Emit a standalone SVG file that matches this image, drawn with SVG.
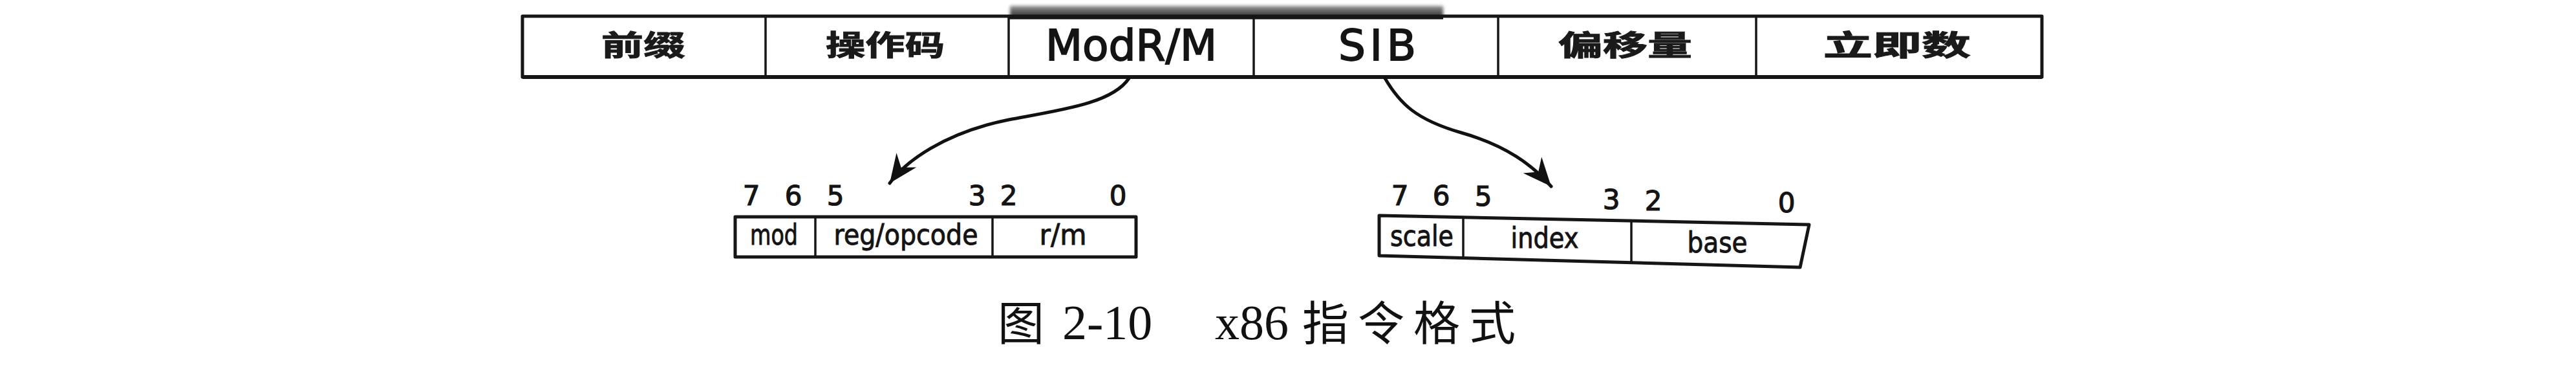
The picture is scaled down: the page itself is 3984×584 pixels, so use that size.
<svg xmlns="http://www.w3.org/2000/svg" width="3984" height="584" viewBox="0 0 3984 584">
<style>
.frame{fill:#fff;stroke:#161616;stroke-width:5;stroke-linejoin:round}
.div{stroke:#161616;stroke-width:3.5;fill:none}
.cn{font-family:"Noto Sans CJK SC","Noto Sans CJK TC",sans-serif;font-weight:700;font-size:44px;fill:#1a1a1a;stroke:#1a1a1a;stroke-width:1}
.en{font-family:"DejaVu Sans",sans-serif;font-size:66px;fill:#141414;stroke:#141414;stroke-width:1.8}
.fld{font-family:"DejaVu Sans",sans-serif;font-size:44px;fill:#141414;stroke:#141414;stroke-width:1;text-anchor:middle}
.bit{font-family:"DejaVu Sans",sans-serif;font-size:42px;fill:#141414;stroke:#141414;stroke-width:1.2;text-anchor:middle}
.cap{font-family:"Liberation Serif","Noto Sans CJK SC",serif;font-size:76px;fill:#111}
.capcn{font-family:"Noto Sans CJK SC","Noto Sans CJK TC",sans-serif;font-size:72px;fill:#111}
.conn{fill:none;stroke:#111;stroke-width:5;stroke-linecap:round}
</style>
<defs>
<marker id="ah" markerUnits="userSpaceOnUse" viewBox="-46 -24 50 48" refX="0" refY="0" markerWidth="50" markerHeight="48" orient="auto">
<path d="M0,0 L-44,-19 L-30,0 L-44,19 Z" fill="#111"/>
</marker>
<filter id="blur" x="-10%" y="-100%" width="120%" height="300%"><feGaussianBlur stdDeviation="2.5"/></filter>
<linearGradient id="sh" x1="0" y1="0" x2="0" y2="1">
<stop offset="0" stop-color="#999"/>
<stop offset="0.5" stop-color="#555"/>
<stop offset="1" stop-color="#333"/>
</linearGradient>
</defs>
<rect width="3984" height="584" fill="#fff"/>

<g id="instruction-format">
<rect x="1562" y="9" width="670" height="20" fill="url(#sh)" filter="url(#blur)"/>
<rect class="frame" x="808" y="25" width="2350" height="94"/>
<line class="div" x1="1560" y1="28" x2="2232" y2="28" stroke-width="5"/>
<line x1="808" y1="119" x2="3158" y2="119" stroke="#161616" stroke-width="6"/>
<g id="prefix"><line class="div" x1="1184" y1="25" x2="1184" y2="119"/><text class="cn" x="930" y="86" textLength="130" lengthAdjust="spacingAndGlyphs">前缀</text></g>
<g id="opcode"><line class="div" x1="1560" y1="25" x2="1560" y2="119"/><text class="cn" x="1277" y="86" textLength="184" lengthAdjust="spacingAndGlyphs">操作码</text></g>
<g id="modrm"><line class="div" x1="1939" y1="28" x2="1939" y2="119"/><text class="en" x="1617" y="93" textLength="265" lengthAdjust="spacingAndGlyphs">ModR/M</text></g>
<g id="sib"><line class="div" x1="2317" y1="25" x2="2317" y2="119"/><text class="en" x="2070" y="93" textLength="120" lengthAdjust="spacing">SIB</text></g>
<g id="displacement"><line class="div" x1="2716" y1="25" x2="2716" y2="119"/><text class="cn" x="2410" y="86" textLength="207" lengthAdjust="spacingAndGlyphs">偏移量</text></g>
<g id="immediate"><text class="cn" x="2820" y="86" textLength="228" lengthAdjust="spacingAndGlyphs">立即数</text></g>
</g>

<g id="connectors">
<path class="conn" d="M1746,121 C1720,160 1640,170 1560,185 C1460,205 1400,250 1376,283" marker-end="url(#ah)"/>
<path class="conn" d="M2142,121 C2165,160 2190,185 2260,205 C2330,225 2370,255 2399,288" marker-end="url(#ah)"/>
</g>

<g id="modrm-byte">
<text class="bit" x="1162" y="317">7</text>
<text class="bit" x="1227" y="317">6</text>
<text class="bit" x="1292" y="317">5</text>
<text class="bit" x="1511" y="317">3</text>
<text class="bit" x="1560" y="317">2</text>
<text class="bit" x="1729" y="317">0</text>
<rect class="frame" x="1137" y="335" width="620" height="62"/>
<line class="div" x1="1261" y1="335" x2="1261" y2="397"/>
<line class="div" x1="1535" y1="335" x2="1535" y2="397"/>
<text class="fld" x="1197" y="378" textLength="74" lengthAdjust="spacingAndGlyphs">mod</text>
<text class="fld" x="1401" y="378" textLength="223" lengthAdjust="spacingAndGlyphs">reg/opcode</text>
<text class="fld" x="1644" y="378" textLength="73" lengthAdjust="spacingAndGlyphs">r/m</text>
</g>

<g id="sib-byte">
<text class="bit" x="2165" y="317">7</text>
<text class="bit" x="2229" y="317">6</text>
<text class="bit" x="2294" y="318">5</text>
<text class="bit" x="2492" y="323">3</text>
<text class="bit" x="2557" y="325">2</text>
<text class="bit" x="2763" y="328">0</text>
<polygon class="frame" points="2133,333 2798,347 2784,413 2133,395"/>
<line class="div" x1="2263" y1="336" x2="2263" y2="399"/>
<line class="div" x1="2523" y1="341" x2="2523" y2="406"/>
<text class="fld" x="2199" y="380" textLength="98" lengthAdjust="spacingAndGlyphs">scale</text>
<text class="fld" x="2389" y="383" textLength="105" lengthAdjust="spacingAndGlyphs">index</text>
<text class="fld" x="2656" y="390" textLength="93" lengthAdjust="spacingAndGlyphs">base</text>
</g>

<g id="caption">
<text class="capcn" x="1543" y="525">图</text>
<text class="cap" x="1643" y="524">2-10</text>
<text class="cap" x="1879" y="524">x86</text>
<text class="capcn" x="2014" y="525" textLength="330" lengthAdjust="spacing">指令格式</text>
</g>
</svg>
